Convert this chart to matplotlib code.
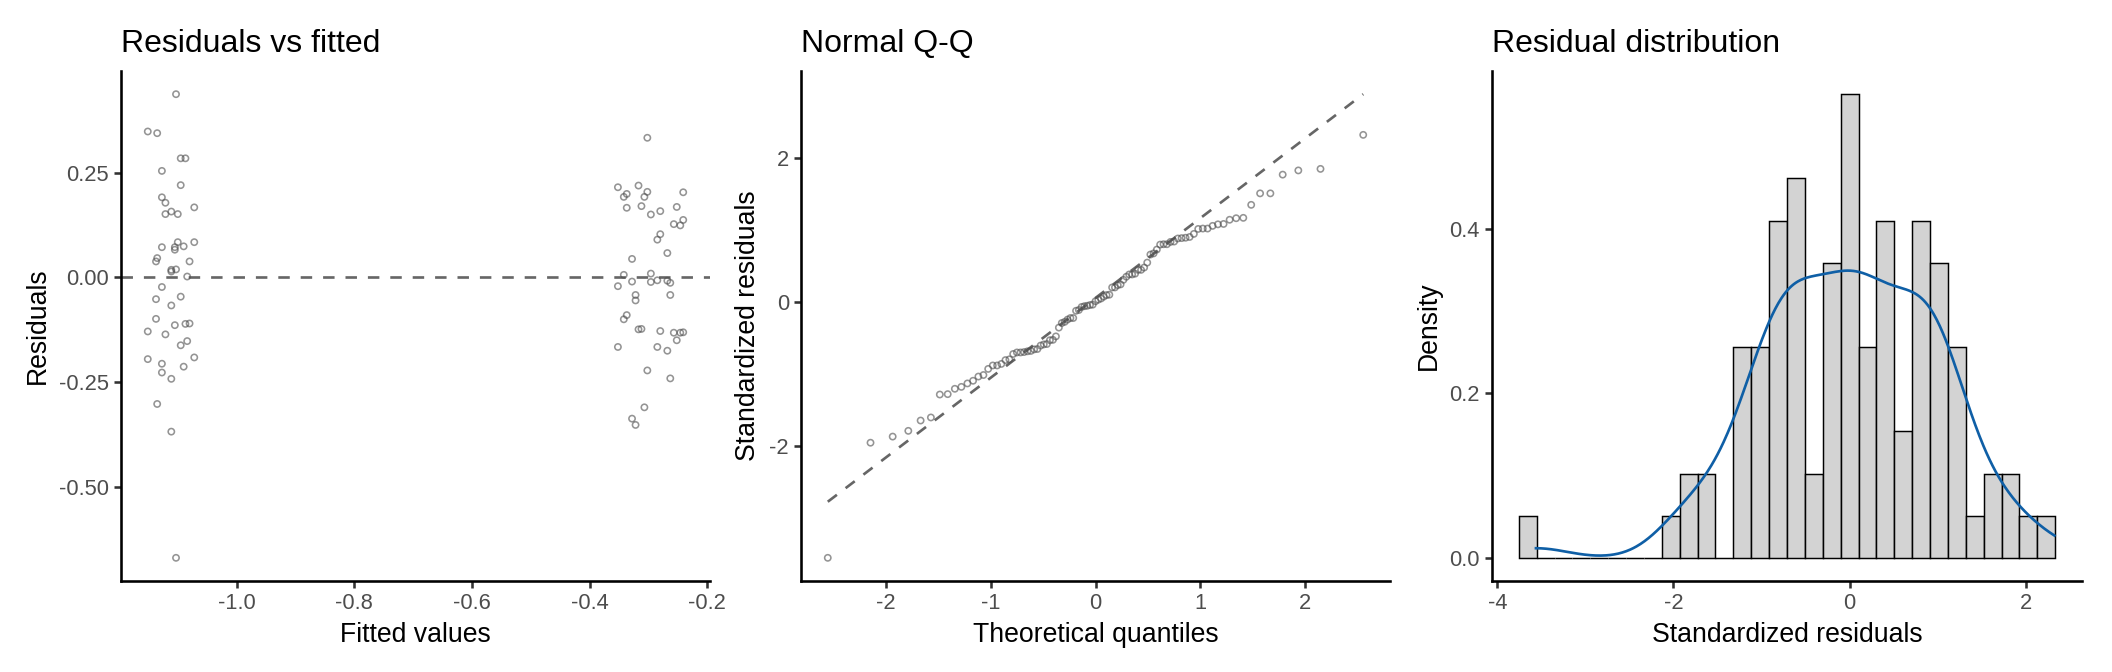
import matplotlib
matplotlib.use("Agg")
import matplotlib.pyplot as plt
from matplotlib.ticker import FormatStrFormatter
import numpy as np
from statistics import NormalDist

plt.rcParams['font.family'] = ['Liberation Sans', 'DejaVu Sans']
plt.rcParams['axes.unicode_minus'] = False

# fitted values and raw residuals
FITTED = [
    -1.103, -1.151, -1.135, -1.095, -1.087, -1.127, -1.095, -1.127, -1.121, -1.072,
    -1.121, -1.111, -1.100, -1.100, -1.072, -1.127, -1.105, -1.105, -1.090, -1.135,
    -1.137, -1.080, -1.111, -1.111, -1.103, -1.084, -1.127, -1.137, -1.095, -1.111,
    -1.137, -1.151, -1.121, -1.105, -1.087, -1.080, -1.095, -1.084, -1.151, -1.127,
    -1.127, -1.072, -1.090, -1.111, -1.135, -1.111, -1.103,
    -0.302, -0.352, -0.317, -0.342, -0.337, -0.302, -0.307, -0.241, -0.337, -0.312,
    -0.252, -0.296, -0.280, -0.257, -0.246, -0.241, -0.280, -0.285, -0.268, -0.328,
    -0.342, -0.296, -0.352, -0.328, -0.296, -0.285, -0.268, -0.263, -0.322, -0.322,
    -0.263, -0.337, -0.342, -0.317, -0.312, -0.280, -0.257, -0.246, -0.241, -0.252,
    -0.352, -0.285, -0.268, -0.302, -0.263, -0.307, -0.328, -0.322,
]
RESIDUALS = [
    0.437, 0.348, 0.344, 0.284, 0.284, 0.254, 0.220, 0.191, 0.178, 0.167,
    0.151, 0.157, 0.151, 0.084, 0.084, 0.072, 0.072, 0.066, 0.074, 0.046,
    0.038, 0.038, 0.018, 0.014, 0.019, 0.002, -0.023, -0.052, -0.046, -0.067,
    -0.099, -0.129, -0.136, -0.114, -0.111, -0.110, -0.162, -0.152, -0.195, -0.206,
    -0.227, -0.191, -0.213, -0.242, -0.302, -0.368, -0.669,
    0.333, 0.215, 0.219, 0.192, 0.199, 0.204, 0.192, 0.203, 0.166, 0.170,
    0.168, 0.150, 0.158, 0.127, 0.124, 0.137, 0.103, 0.090, 0.058, 0.044,
    0.006, 0.009, -0.021, -0.010, -0.011, -0.007, -0.008, -0.013, -0.042, -0.055,
    -0.042, -0.090, -0.100, -0.124, -0.123, -0.128, -0.132, -0.132, -0.131, -0.150,
    -0.166, -0.166, -0.175, -0.222, -0.241, -0.310, -0.337, -0.352,
]
# bar counts of the 30-bin histogram
HIST_COUNTS = [1, 0, 0, 0, 0, 0, 0, 0, 1, 2, 2, 0, 5, 5, 8, 9, 2, 7, 11, 5,
               8, 3, 8, 7, 5, 1, 2, 2, 1, 1]

resid = np.array(RESIDUALS)
fitted = np.array(FITTED)
n = len(resid)
sigma = np.sqrt(np.sum(resid ** 2) / (n - 2))
stdres = resid / sigma

W, H, DPI = 2112, 672, 192
fig = plt.figure(figsize=(W / DPI, H / DPI), dpi=DPI)

TOP, BOTTOM = 71, 581
POINT_KW = dict(s=5.5, facecolors='none', edgecolors=(0.3, 0.3, 0.3, 0.6), linewidths=0.6, zorder=3)
DASH_KW = dict(color='#666666', lw=1.0, dashes=(4.3, 4.1))


def add_panel(x0, x1):
    ax = fig.add_axes([x0 / W, (H - BOTTOM) / H, (x1 - x0) / W, (BOTTOM - TOP) / H])
    for side in ('top', 'right'):
        ax.spines[side].set_visible(False)
    for side in ('left', 'bottom'):
        ax.spines[side].set_linewidth(0.97)
        ax.spines[side].set_color('black')
    ax.tick_params(length=2.5, width=0.97, color='#333333', labelsize=8.2,
                   labelcolor='#4D4D4D', pad=2)
    return ax


def expand(lo, hi, mult=0.05):
    d = (hi - lo) * mult
    return lo - d, hi + d


def finish(ax, title, xlabel, ylabel):
    ax.set_title(title, loc='left', fontsize=12, pad=7)
    ax.set_xlabel(xlabel, fontsize=10, labelpad=3)
    ax.set_ylabel(ylabel, fontsize=10, labelpad=3)


# panel 1: residuals vs fitted
ax1 = add_panel(121, 710)
ax1.axhline(0, **DASH_KW)
ax1.scatter(fitted, resid, **POINT_KW)
ax1.set_xlim(*expand(fitted.min(), fitted.max()))
ax1.set_ylim(*expand(resid.min(), resid.max()))
ax1.set_xticks([-1.0, -0.8, -0.6, -0.4, -0.2])
ax1.set_yticks([-0.5, -0.25, 0.0, 0.25])
ax1.xaxis.set_major_formatter(FormatStrFormatter('%.1f'))
ax1.yaxis.set_major_formatter(FormatStrFormatter('%.2f'))
finish(ax1, 'Residuals vs fitted', 'Fitted values', 'Residuals')

# panel 2: normal Q-Q
nd = NormalDist()
sample = np.sort(stdres)
theo = np.array([nd.inv_cdf((i - 0.5) / n) for i in range(1, n + 1)])
y25, y75 = np.percentile(sample, [25, 75])
x25, x75 = nd.inv_cdf(0.25), nd.inv_cdf(0.75)
slope = (y75 - y25) / (x75 - x25)
intercept = y25 - slope * x25
line_x = np.array([theo.min(), theo.max()])
line_y = intercept + slope * line_x

ax2 = add_panel(801, 1390)
ax2.plot(line_x, line_y, **DASH_KW)
ax2.scatter(theo, sample, **POINT_KW)
ax2.set_xlim(*expand(theo.min(), theo.max()))
ax2.set_ylim(*expand(min(sample.min(), line_y.min()), max(sample.max(), line_y.max())))
ax2.set_xticks([-2, -1, 0, 1, 2])
ax2.set_yticks([-2, 0, 2])
finish(ax2, 'Normal Q-Q', 'Theoretical quantiles', 'Standardized residuals')

# panel 3: histogram + density
bins = len(HIST_COUNTS)
width = (stdres.max() - stdres.min()) / (bins - 1)
boundary = width / 2
shift = np.floor((stdres.min() - boundary) / width)
origin = boundary + shift * width
edges = origin + width * np.arange(bins + 1)
counts = np.array(HIST_COUNTS, dtype=float)
hist_density = counts / (counts.sum() * width)

sd = stdres.std(ddof=1)
q75, q25 = np.percentile(stdres, [75, 25])
bw = 0.9 * min(sd, (q75 - q25) / 1.34) * n ** -0.2
grid = np.linspace(stdres.min(), stdres.max(), 512)
kde = np.exp(-0.5 * ((grid[:, None] - stdres[None, :]) / bw) ** 2).sum(axis=1) / (n * bw * np.sqrt(2 * np.pi))

ax3 = add_panel(1492, 2082)
ax3.bar(edges[:-1], hist_density, width=width, align='edge', color='#D3D3D3',
        edgecolor='black', linewidth=0.55, zorder=2)
ax3.plot(grid, kde, color='#0F5FA6', lw=1.0, zorder=3)
ax3.set_xlim(*expand(edges[0], edges[-1]))
ax3.set_ylim(*expand(0, max(hist_density.max(), kde.max())))
ax3.set_xticks([-4, -2, 0, 2])
ax3.set_yticks([0.0, 0.2, 0.4])
ax3.yaxis.set_major_formatter(FormatStrFormatter('%.1f'))
finish(ax3, 'Residual distribution', 'Standardized residuals', 'Density')

fig.savefig('out.png', dpi=DPI, facecolor='white')
